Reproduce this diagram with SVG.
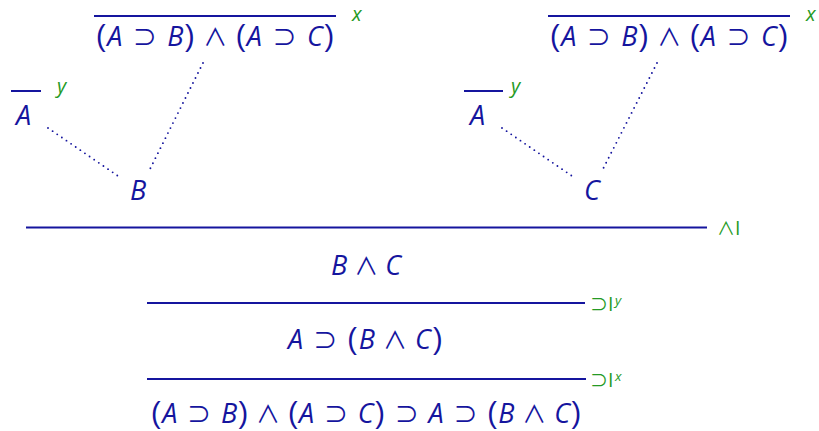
<svg xmlns="http://www.w3.org/2000/svg" width="819" height="431" viewBox="0 0 819 431">
<style>
.f{font-family:"Open Sans","DejaVu Sans",sans-serif;font-size:27px;fill:#15159e}
.i{font-style:italic}
.p{font-family:"Liberation Sans","DejaVu Sans",sans-serif;font-size:29px}
.s{font-family:"Noto Sans CJK JP","DejaVu Sans",sans-serif;font-size:24px}
.lab{font-family:"Open Sans","DejaVu Sans",sans-serif;font-size:19.5px;fill:#259a25}
.hv{font-size:20px}
.ls{font-family:"Noto Sans CJK JP","DejaVu Sans",sans-serif;font-size:18px}
.sup{font-size:13.5px}
.bar{stroke:#15159e;stroke-width:2;fill:none}
.dot{stroke:#15159e;stroke-width:1.9;fill:none;stroke-dasharray:0 5.6;stroke-linecap:round}
</style>
<rect width="819" height="431" fill="#fff"/>
<g id="hyp-x-left">
<line class="bar" x1="94" y1="16" x2="336" y2="16"/>
<text class="f" x="96" y="46"><tspan class="p">(</tspan><tspan class="i" dx="1.5">A</tspan><tspan class="s" dx="10.5">⊃</tspan><tspan class="i" dx="10.5">B</tspan><tspan class="p" dx="1.5">)</tspan><tspan class="s" dx="8.5">∧</tspan><tspan class="p" dx="8.5">(</tspan><tspan class="i" dx="1.5">A</tspan><tspan class="s" dx="10.5">⊃</tspan><tspan class="i" dx="10.5">C</tspan><tspan class="p" dx="1.5">)</tspan></text>
<text class="lab hv i" x="352" y="21">x</text>
</g>
<g id="hyp-y-left">
<line class="bar" x1="11" y1="91" x2="41" y2="91"/>
<text class="f i" x="16" y="125">A</text>
<text class="lab hv i" x="57" y="93">y</text>
</g>
<g id="node-B">
<text class="f i" x="130" y="200">B</text>
</g>
<g id="hyp-x-right">
<line class="bar" x1="548" y1="16" x2="790" y2="16"/>
<text class="f" x="550" y="46"><tspan class="p">(</tspan><tspan class="i" dx="1.5">A</tspan><tspan class="s" dx="10.5">⊃</tspan><tspan class="i" dx="10.5">B</tspan><tspan class="p" dx="1.5">)</tspan><tspan class="s" dx="8.5">∧</tspan><tspan class="p" dx="8.5">(</tspan><tspan class="i" dx="1.5">A</tspan><tspan class="s" dx="10.5">⊃</tspan><tspan class="i" dx="10.5">C</tspan><tspan class="p" dx="1.5">)</tspan></text>
<text class="lab hv i" x="806" y="21">x</text>
</g>
<g id="hyp-y-right">
<line class="bar" x1="464" y1="91" x2="503" y2="91"/>
<text class="f i" x="470" y="125">A</text>
<text class="lab hv i" x="511" y="93">y</text>
</g>
<g id="node-C">
<text class="f i" x="584" y="200">C</text>
</g>
<g id="connectors">
<line class="dot" x1="48" y1="128" x2="118" y2="176"/>
<line class="dot" x1="203" y1="63" x2="150" y2="169"/>
<line class="dot" x1="502" y1="128" x2="572" y2="176"/>
<line class="dot" x1="657" y1="63" x2="603" y2="169"/>
</g>
<g id="rule-andI">
<line class="bar" x1="26" y1="227.5" x2="707" y2="227.5"/>
<text class="lab" x="717" y="235"><tspan class="ls">∧</tspan>I</text>
</g>
<g id="node-BandC">
<text class="f" x="331" y="275"><tspan class="i">B</tspan><tspan class="s" dx="7">∧</tspan><tspan class="i" dx="7">C</tspan></text>
</g>
<g id="rule-impI-y">
<line class="bar" x1="147" y1="303" x2="585" y2="303"/>
<text class="lab" x="590" y="311"><tspan class="ls">⊃</tspan>I<tspan class="sup i" dx="1.5" dy="-6">y</tspan></text>
</g>
<g id="node-AimpBC">
<text class="f" x="288" y="349"><tspan class="i">A</tspan><tspan class="s" dx="10">⊃</tspan><tspan class="p" dx="10">(</tspan><tspan class="i" dx="2">B</tspan><tspan class="s" dx="8">∧</tspan><tspan class="i" dx="8">C</tspan><tspan class="p" dx="2">)</tspan></text>
</g>
<g id="rule-impI-x">
<line class="bar" x1="147" y1="379" x2="586" y2="379"/>
<text class="lab" x="590" y="387"><tspan class="ls">⊃</tspan>I<tspan class="sup i" dx="1.5" dy="-6">x</tspan></text>
</g>
<g id="node-conclusion">
<text class="f" x="151" y="423"><tspan class="p">(</tspan><tspan class="i" dx="1.5">A</tspan><tspan class="s" dx="9.8">⊃</tspan><tspan class="i" dx="9.8">B</tspan><tspan class="p" dx="1.5">)</tspan><tspan class="s" dx="7.8">∧</tspan><tspan class="p" dx="7.8">(</tspan><tspan class="i" dx="1.5">A</tspan><tspan class="s" dx="9.8">⊃</tspan><tspan class="i" dx="9.8">C</tspan><tspan class="p" dx="1.5">)</tspan><tspan class="s" dx="9.8">⊃</tspan><tspan class="i" dx="9.8">A</tspan><tspan class="s" dx="9.8">⊃</tspan><tspan class="p" dx="9.8">(</tspan><tspan class="i" dx="1.5">B</tspan><tspan class="s" dx="7.8">∧</tspan><tspan class="i" dx="7.8">C</tspan><tspan class="p" dx="1.5">)</tspan></text>
</g>
</svg>
